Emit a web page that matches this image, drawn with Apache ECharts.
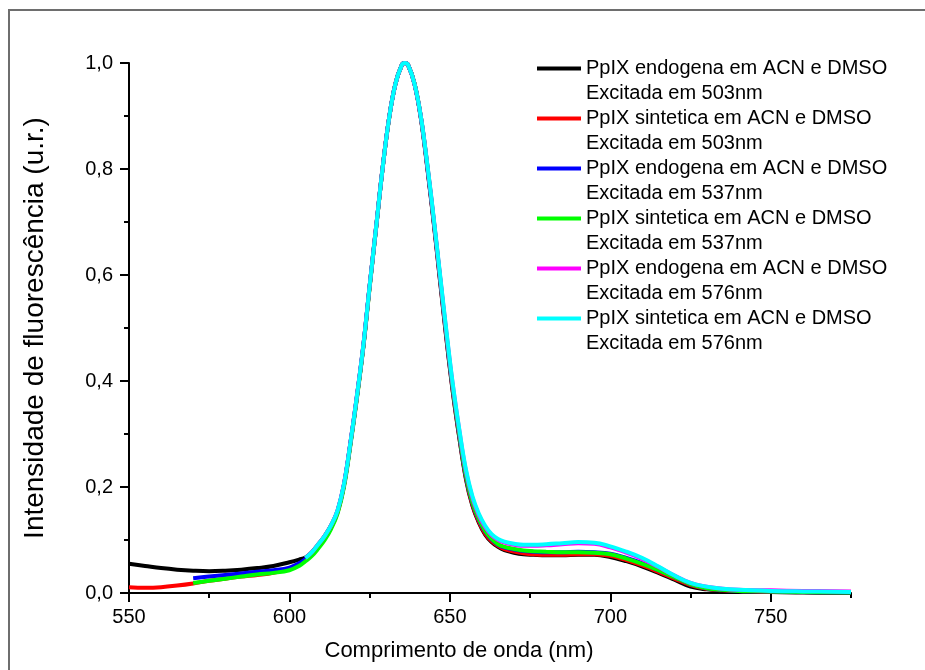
<!DOCTYPE html>
<html>
<head>
<meta charset="utf-8">
<script src="https://cdn.jsdelivr.net/npm/echarts@6/dist/echarts.min.js"></script>
<style>
html,body{margin:0;padding:0;background:#fff;}
#chart{width:925px;height:670px;}
</style>
</head>
<body>
<div id="chart"></div>
<script>
// ---- data (wavelength in nm, normalized fluorescence) ----
const wlLow503 = [550,555,560,565,570,575,580,585,590,595,600,603];
const wlLow537 = [570,575,580,585,590,595,600,603];
const wlMain = [605,607,609,611,613,615,617,619,621,623,
  625,627,629,631,633,635,636,637,639,641,
  643,645,647,649,651,653,655,657,659,661,
  663,665,667,670,673,676,680,685,690,695,
  700,705,710,715,720,725,730,735,740,750,
  760,775];

const lowBlack = [.055,.051,.047,.044,.042,.041,.042,.044,.047,.051,.058,.063];
const lowRed   = [.011,.010,.011,.014,.018,.023,.027,.031,.034,.038,.046,.054];
const lowBlue  = [.028,.031,.034,.037,.040,.043,.048,.056];
const lowGreen = [.019,.023,.027,.031,.035,.038,.043,.051];

const mainBlack = [.067,.077,.092,.108,.128,.155,.205,.283,.37,.465,
  .58,.69,.80,.894,.96,.996,1.0,.996,.96,.894,
  .80,.696,.585,.475,.375,.29,.215,.165,.133,.11,
  .096,.087,.081,.076,.073,.072,.071,.071,.072,.072,
  .068,.06,.05,.038,.025,.012,.007,.005,.004,.002,
  .001,0];
const mainRed = [.062,.073,.087,.103,.124,.152,.203,.281,.368,.463,
  .578,.688,.80,.894,.96,.996,1.0,.996,.96,.895,
  .802,.698,.587,.477,.377,.292,.217,.167,.135,.112,
  .098,.089,.083,.078,.075,.073,.072,.072,.073,.073,
  .07,.062,.052,.04,.027,.015,.008,.005,.004,.002,
  .002,.001];
const mainBlue = [.064,.075,.089,.105,.126,.154,.204,.282,.369,.464,
  .579,.689,.80,.894,.96,.996,1.0,.996,.96,.896,
  .803,.70,.59,.48,.38,.295,.22,.171,.139,.116,
  .101,.091,.086,.082,.079,.078,.077,.077,.078,.077,
  .074,.066,.056,.043,.03,.017,.009,.006,.004,.003,
  .002,.001];
const mainGreen = [.06,.07,.084,.10,.121,.15,.20,.279,.366,.462,
  .577,.688,.799,.893,.96,.996,1.0,.996,.961,.897,
  .805,.702,.592,.482,.382,.297,.222,.172,.14,.117,
  .102,.092,.087,.083,.08,.079,.078,.077,.077,.076,
  .073,.065,.055,.043,.03,.017,.009,.006,.004,.003,
  .002,.001];
const mainMagenta = [.066,.077,.092,.108,.128,.156,.206,.284,.371,.466,
  .58,.69,.80,.894,.96,.996,1.0,.996,.96,.897,
  .806,.704,.595,.487,.388,.304,.23,.18,.147,.124,
  .109,.10,.095,.091,.089,.089,.09,.092,.094,.093,
  .086,.076,.064,.049,.033,.019,.012,.008,.006,.005,
  .004,.003];
const mainCyan = [.066,.077,.092,.108,.128,.156,.206,.284,.371,.466,
  .58,.69,.80,.894,.96,.996,1.0,.996,.96,.897,
  .807,.705,.597,.49,.39,.306,.233,.183,.15,.127,
  .111,.102,.097,.093,.091,.091,.092,.094,.096,.095,
  .088,.078,.066,.05,.033,.019,.012,.008,.006,.004,
  .003,.002];

const seriesNames = [
  'PpIX endogena em ACN e DMSO\nExcitada em 503nm',
  'PpIX sintetica em ACN e DMSO\nExcitada em 503nm',
  'PpIX endogena em ACN e DMSO\nExcitada em 537nm',
  'PpIX sintetica em ACN e DMSO\nExcitada em 537nm',
  'PpIX endogena em ACN e DMSO\nExcitada em 576nm',
  'PpIX sintetica em ACN e DMSO\nExcitada em 576nm'
];
const seriesColors = ['#000000','#ff0000','#0000ff','#00ff00','#ff00ff','#00ffff'];

const xTicksMajor = [550,600,650,700,750];
const yTicksMajor = [0,0.2,0.4,0.6,0.8,1.0];

function pairs(wl, vals){ return wl.map((w,i)=>[w, vals[i]]); }

const seriesData = [
  pairs(wlLow503.concat(wlMain), lowBlack.concat(mainBlack)),
  pairs(wlLow503.concat(wlMain), lowRed.concat(mainRed)),
  pairs(wlLow537.concat(wlMain), lowBlue.concat(mainBlue)),
  pairs(wlLow537.concat(wlMain), lowGreen.concat(mainGreen)),
  pairs(wlMain, mainMagenta),
  pairs(wlMain, mainCyan)
];

const FONT = "'Liberation Sans', Arial, sans-serif";
const chart = echarts.init(document.getElementById('chart'), null, {renderer:'canvas'});

chart.setOption({
  animation: false,
  backgroundColor: '#ffffff',
  textStyle: {fontFamily: FONT},
  graphic: [{
    type: 'rect', silent: true, z: -1,
    shape: {x: 9, y: 10, width: 1200, height: 1000},
    style: {fill: 'none', stroke: '#6e6e6e', lineWidth: 2}
  }],
  grid: {left: 129, right: 74, top: 63, bottom: 77, containLabel: false, outerBoundsMode: 'none'},
  legend: {
    orient: 'vertical',
    left: 532, top: 26,
    itemWidth: 44, itemHeight: 4,
    itemGap: -25,
    icon: 'rect',
    data: seriesNames,
    formatter: name => '\n' + name,
    textStyle: {fontFamily: FONT, fontSize: 20, color: '#000', lineHeight: 25}
  },
  xAxis: [{
    type: 'value', min: 550, max: 775, interval: 25,
    name: 'Comprimento de onda (nm)', nameLocation: 'middle', nameGap: 47,
    nameTextStyle: {fontFamily: FONT, fontSize: 22, color: '#000', padding: [0,62,0,0]},
    axisLine: {show: true, onZero: false, lineStyle: {color: '#000', width: 2}},
    axisTick: {show: true, inside: false, length: 5, lineStyle: {color: '#000', width: 2}},
    axisLabel: {show: true, margin: 14, fontFamily: FONT, fontSize: 20, color: '#000',
      formatter: v => (xTicksMajor.indexOf(Math.round(v)) >= 0 ? String(Math.round(v)) : '')},
    splitLine: {show: false}
  }, {
    type: 'value', min: 550, max: 775, position: 'bottom', gridIndex: 0,
    axisLine: {show: false},
    axisTick: {show: true, inside: false, length: 9, customValues: xTicksMajor, lineStyle: {color: '#000', width: 2}},
    axisLabel: {show: false},
    splitLine: {show: false}
  }],
  yAxis: [{
    type: 'value', min: 0, max: 1, interval: 0.1,
    name: 'Intensidade de fluorescência (u.r.)', nameLocation: 'middle', nameGap: 80,
    nameTextStyle: {fontFamily: FONT, fontSize: 28, color: '#000'},
    axisLine: {show: true, onZero: false, lineStyle: {color: '#000', width: 2}},
    axisTick: {show: true, inside: false, length: 5, lineStyle: {color: '#000', width: 2}},
    axisLabel: {show: true, margin: 16, fontFamily: FONT, fontSize: 20, color: '#000',
      formatter: v => {
        const k = Math.round(v * 10);
        return k % 2 === 0 ? (k / 10).toFixed(1).replace('.', ',') : '';
      }},
    splitLine: {show: false}
  }, {
    type: 'value', min: 0, max: 1, position: 'left', gridIndex: 0,
    axisLine: {show: false},
    axisTick: {show: true, inside: false, length: 9, customValues: yTicksMajor, lineStyle: {color: '#000', width: 2}},
    axisLabel: {show: false},
    splitLine: {show: false}
  }],
  series: seriesNames.map((name, i) => ({
    name: name,
    type: 'line',
    xAxisIndex: 0, yAxisIndex: 0,
    data: seriesData[i],
    smooth: 0.4,
    showSymbol: false,
    symbol: 'none',
    color: seriesColors[i],
    lineStyle: {color: seriesColors[i], width: 4},
    z: 2 + i
  }))
});
</script>
</body>
</html>
